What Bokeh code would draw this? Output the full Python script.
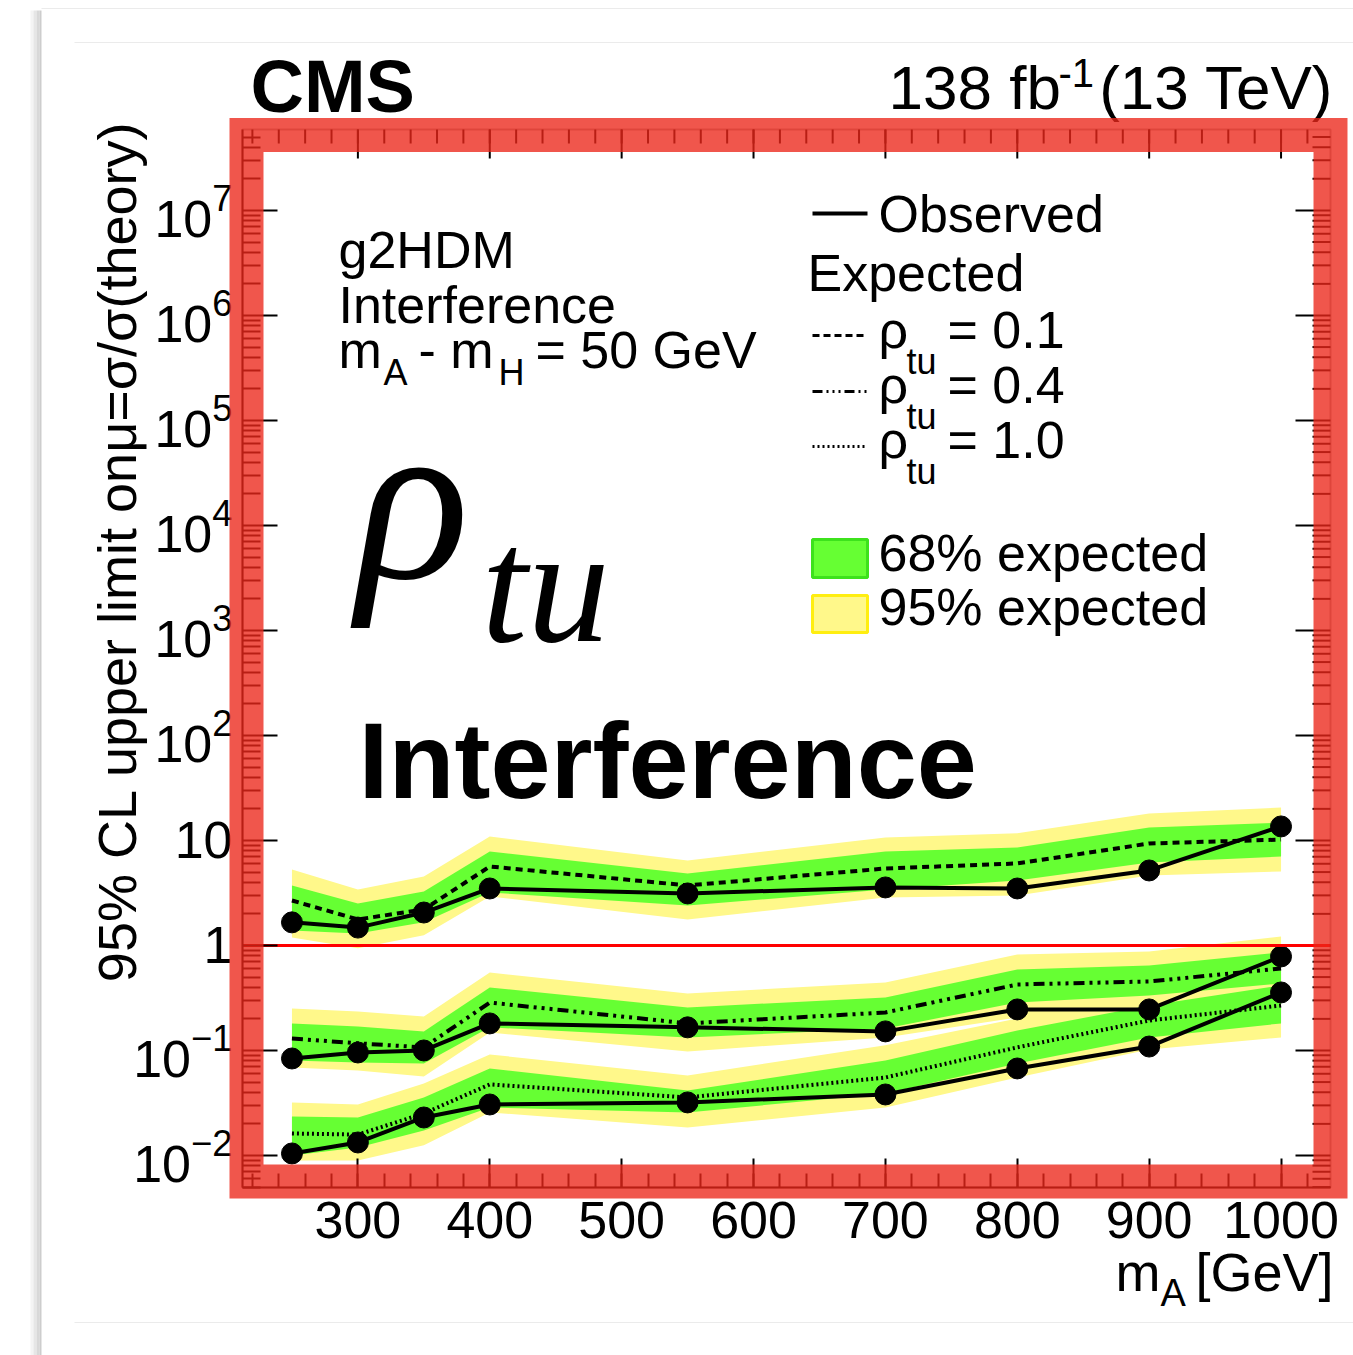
import math
from bokeh.plotting import figure
from bokeh.models import (Range1d, FixedTicker, Label, BoxAnnotation, LogTickFormatter)
from bokeh.embed import file_html
from bokeh.resources import INLINE

# ---------------------------------------------------------------- data
mass = [250, 300, 350, 400, 550, 700, 800, 900, 1000]

# rho_tu = 0.1
obs_01 = [1.66, 1.48, 2.06, 3.49, 3.13, 3.57, 3.49, 5.18, 13.6]
exp_01 = [2.68, 1.77, 2.20, 5.65, 3.73, 5.41, 6.04, 9.36, 10.2]
g_hi_01 = [3.73, 2.51, 3.27, 7.86, 4.85, 7.86, 8.58, 13.3, 14.8]
g_lo_01 = [1.39, 1.30, 1.66, 3.20, 2.40, 3.41, 4.16, 6.17, 7.04]
y_hi_01 = [5.29, 3.41, 4.54, 10.9, 6.45, 10.7, 11.7, 18.1, 20.6]
y_lo_01 = [1.19, 0.94, 1.25, 2.93, 1.77, 2.86, 2.99, 4.64, 5.07]

# rho_tu = 0.4
obs_04 = [0.0839, 0.0957, 0.100, 0.181, 0.166, 0.152, 0.246, 0.246, 0.786]
exp_04 = [0.130, 0.117, 0.107, 0.286, 0.181, 0.230, 0.425, 0.454, 0.604]
g_hi_04 = [0.181, 0.169, 0.152, 0.398, 0.257, 0.320, 0.591, 0.645, 0.858]
g_lo_04 = [0.0803, 0.0769, 0.0752, 0.166, 0.133, 0.162, 0.286, 0.334, 0.435]
y_hi_04 = [0.251, 0.235, 0.211, 0.553, 0.349, 0.444, 0.821, 0.877, 1.22]
y_lo_04 = [0.0689, 0.0645, 0.0565, 0.148, 0.0978, 0.133, 0.206, 0.251, 0.320]

# rho_tu = 1.0
obs_10 = [0.01045, 0.0133, 0.0230, 0.0306, 0.0320, 0.0381, 0.0674, 0.109, 0.357]
exp_10 = [0.0162, 0.0158, 0.0251, 0.0475, 0.0357, 0.0553, 0.107, 0.193, 0.268]
g_hi_10 = [0.0235, 0.0230, 0.0357, 0.0674, 0.0416, 0.0803, 0.155, 0.268, 0.416]
g_lo_10 = [0.0100, 0.0119, 0.0173, 0.0286, 0.0257, 0.0389, 0.0752, 0.133, 0.181]
y_hi_10 = [0.0320, 0.0306, 0.0485, 0.0916, 0.0578, 0.112, 0.202, 0.373, 0.541]
y_lo_10 = [0.00896, 0.00896, 0.0125, 0.0257, 0.0185, 0.0286, 0.0553, 0.102, 0.133]

x_ticks = [300, 400, 500, 600, 700, 800, 900, 1000]
x_minor = list(range(220, 1040, 20))
y_ticks = [1e-2, 1e-1, 1.0, 10.0, 1e2, 1e3, 1e4, 1e5, 1e6, 1e7]
y_minor_all = [k * 10.0 ** n for n in range(-3, 8) for k in range(2, 10)]
y_plain = {1.0: "1", 10.0: "10"}

# ---------------------------------------------------------------- geometry
W, H = 1353, 1355
FL, FR, FT, FB = 242, 1330, 129, 1187          # axes box on the canvas
X0, X1 = 212.5, 1037.5                         # m_A range of the axes box
LO, HI = -2.305, 7.771                         # log10 range of the axes box

FONT = "Liberation Sans"
SERIF = "Liberation Serif"
GREEN = "#66ff33"
YELLOW = "#fff88a"
BASE_SHIFT = 0.345                             # baseline correction, in em

y_minor = [v for v in y_minor_all if 10 ** LO < v < 10 ** HI]
x_minor = [v for v in x_minor if X0 < v < X1]


def dx(px):
    return X0 + (px - FL) * (X1 - X0) / (FR - FL)


def dy(py):
    return 10 ** (LO + (FB - py) * (HI - LO) / (FB - FT))


# the plotting frame spans the whole canvas; the axes sit on the box edges
p = figure(width=W, height=H, x_range=Range1d(dx(0), dx(W)), y_range=Range1d(dy(H), dy(0)),
           y_axis_type="log", output_backend="svg", toolbar_location=None, min_border=0)
p.grid.visible = False
p.background_fill_color = "white"
p.border_fill_color = "white"
p.outline_line_color = None


def style_axis(ax, major_in, minor_in, standoff):
    ax.major_tick_in = major_in
    ax.major_tick_out = 0
    ax.minor_tick_in = minor_in
    ax.minor_tick_out = 0
    ax.axis_line_width = 2
    ax.axis_line_color = "black"
    ax.major_tick_line_width = 2
    ax.minor_tick_line_width = 2
    ax.major_tick_line_color = "black"
    ax.minor_tick_line_color = "black"
    ax.major_label_text_font = FONT
    ax.major_label_text_color = "black"
    ax.major_label_text_font_size = "52px"
    ax.major_label_standoff = standoff


xb = p.xaxis[0]
xb.ticker = FixedTicker(ticks=x_ticks, minor_ticks=x_minor)
xb.major_label_overrides = {float(t): str(t) for t in x_ticks}
xb.fixed_location = 10 ** LO
xb.bounds = (X0, X1)
style_axis(xb, 29, 14, 14)

yl = p.yaxis[0]
yl.ticker = FixedTicker(ticks=y_ticks, minor_ticks=y_minor)
yl.formatter = LogTickFormatter()
yl.major_label_overrides = y_plain
yl.fixed_location = X0
yl.bounds = (10 ** LO, 10 ** HI)
style_axis(yl, 35, 18, 10)

# box outline and mirrored ticks on the right and top edges
p.add_layout(BoxAnnotation(left=X0, right=X1, bottom=10 ** LO, top=10 ** HI, fill_alpha=0,
                           line_color="black", line_width=2, level="guide"))
p.segment(x0=[dx(FR - 35)] * len(y_ticks), y0=y_ticks, x1=[X1] * len(y_ticks), y1=y_ticks,
          line_color="black", line_width=2)
p.segment(x0=[dx(FR - 18)] * len(y_minor), y0=y_minor, x1=[X1] * len(y_minor),
          y1=y_minor, line_color="black", line_width=2)
p.segment(x0=x_ticks, y0=[dy(FT + 29)] * len(x_ticks), x1=x_ticks, y1=[10 ** HI] * len(x_ticks),
          line_color="black", line_width=2)
p.segment(x0=x_minor, y0=[dy(FT + 14)] * len(x_minor), x1=x_minor,
          y1=[10 ** HI] * len(x_minor), line_color="black", line_width=2)

# ---------------------------------------------------------------- bands and limits
for lo, hi in [(y_lo_01, y_hi_01), (y_lo_04, y_hi_04), (y_lo_10, y_hi_10)]:
    p.varea(x=mass, y1=lo, y2=hi, fill_color=YELLOW)
for lo, hi in [(g_lo_01, g_hi_01), (g_lo_04, g_hi_04), (g_lo_10, g_hi_10)]:
    p.varea(x=mass, y1=lo, y2=hi, fill_color=GREEN)

p.line(mass, exp_01, line_color="black", line_width=4, line_dash="7 5")
p.line(mass, exp_04, line_color="black", line_width=4, line_dash="11 5 3 5 3 5 3 5")
p.line(mass, exp_10, line_color="black", line_width=4, line_dash="2 3")

for obs in (obs_01, obs_04, obs_10):
    p.line(mass, obs, line_color="black", line_width=4)
    p.scatter(mass, obs, size=21, fill_color="black", line_color="black")

p.segment(x0=[X0], y0=[1.0], x1=[X1], y1=[1.0], line_color="#ff0000", line_width=3)


# ---------------------------------------------------------------- text
def lab(text, px, py, size, style="normal", font=FONT, align="left", angle=0.0):
    if angle:
        px = px - BASE_SHIFT * size
    else:
        py = py - BASE_SHIFT * size
    p.add_layout(Label(x=dx(px), y=dy(py), text=text, text_font=font,
                       text_font_size=f"{size}px", text_font_style=style,
                       text_align=align, text_baseline="alphabetic", angle=angle,
                       text_color="black"))


lab("CMS", 250, 112, 74, "bold")
lab("138 fb", 888, 108, 62)
lab("-1", 1058, 86, 40)
lab("(13 TeV)", 1333, 108, 62, align="right")

lab("g2HDM", 338, 267, 52)
lab("Interference", 338, 322, 52)
lab("m", 338, 367, 52)
lab("A", 383, 384, 36)
lab("- m", 418, 367, 52)
lab("H", 498, 384, 36)
lab("= 50 GeV", 535, 367, 52)

lab("ρ", 356, 580, 235, "italic", SERIF)
lab("tu", 481, 642, 165, "italic", SERIF)
lab("Interference", 358, 797, 108, "bold")

# legend
p.line([dx(812), dx(867)], [dy(213), dy(213)], line_color="black", line_width=4)
lab("Observed", 878, 231, 52)
lab("Expected", 807, 290, 52)
rows = [(335, 347, "7 4", "= 0.1"), (391, 402, "10 4 2 4 2 4 2 4", "= 0.4"),
        (446, 457, "2 3", "= 1.0")]
for py_line, py_base, dash, txt in rows:
    p.line([dx(812), dx(866)], [dy(py_line), dy(py_line)], line_color="black",
           line_width=3, line_dash=dash)
    lab("ρ", 878, py_base, 52)
    lab("tu", 906, py_base + 26, 36)
    lab(txt, 947, py_base, 52)

p.quad(left=[dx(812)], right=[dx(867)], top=[dy(539)], bottom=[dy(577)],
       fill_color=GREEN, line_color="#3de21c", line_width=3)
p.quad(left=[dx(812)], right=[dx(867)], top=[dy(595)], bottom=[dy(632)],
       fill_color=YELLOW, line_color="#ffee10", line_width=3)
lab("68% expected", 878, 570, 52)
lab("95% expected", 878, 624, 52)

# axis titles
lab("m", 1115, 1290, 54)
lab("A", 1160, 1306, 38)
lab("[GeV]", 1333, 1290, 54, align="right")
lab("95% CL upper limit onμ=σ/σ(theory)", 135, 120, 54, align="right", angle=math.pi / 2)

# ---------------------------------------------------------------- highlight frame and page edges
p.add_layout(BoxAnnotation(left=dx(246), right=dx(1330), top=dy(134.5), bottom=dy(1181),
                           fill_alpha=0, line_color="#ec261a", line_alpha=0.78,
                           line_width=34, line_join="miter", level="overlay"))

for x_a, x_b, shade in [(30, 33, "#f4f4f4"), (33, 36, "#e6e6e6"), (36, 39, "#d8d8d8"),
                        (39, 41, "#cdcdcd")]:
    p.add_layout(BoxAnnotation(left=dx(x_a), right=dx(x_b), top=dy(10), bottom=dy(H),
                               fill_color=shade, fill_alpha=1, line_alpha=0, level="underlay"))
for y_line in (8, 42, 1322):
    p.add_layout(BoxAnnotation(left=dx(41 if y_line == 8 else 74), right=dx(W),
                               top=dy(y_line - 0.5), bottom=dy(y_line + 0.5),
                               fill_color="#ebebeb", fill_alpha=1, line_alpha=0,
                               level="underlay"))

open("out.html", "w").write(file_html(p, INLINE, "g2HDM limits"))
